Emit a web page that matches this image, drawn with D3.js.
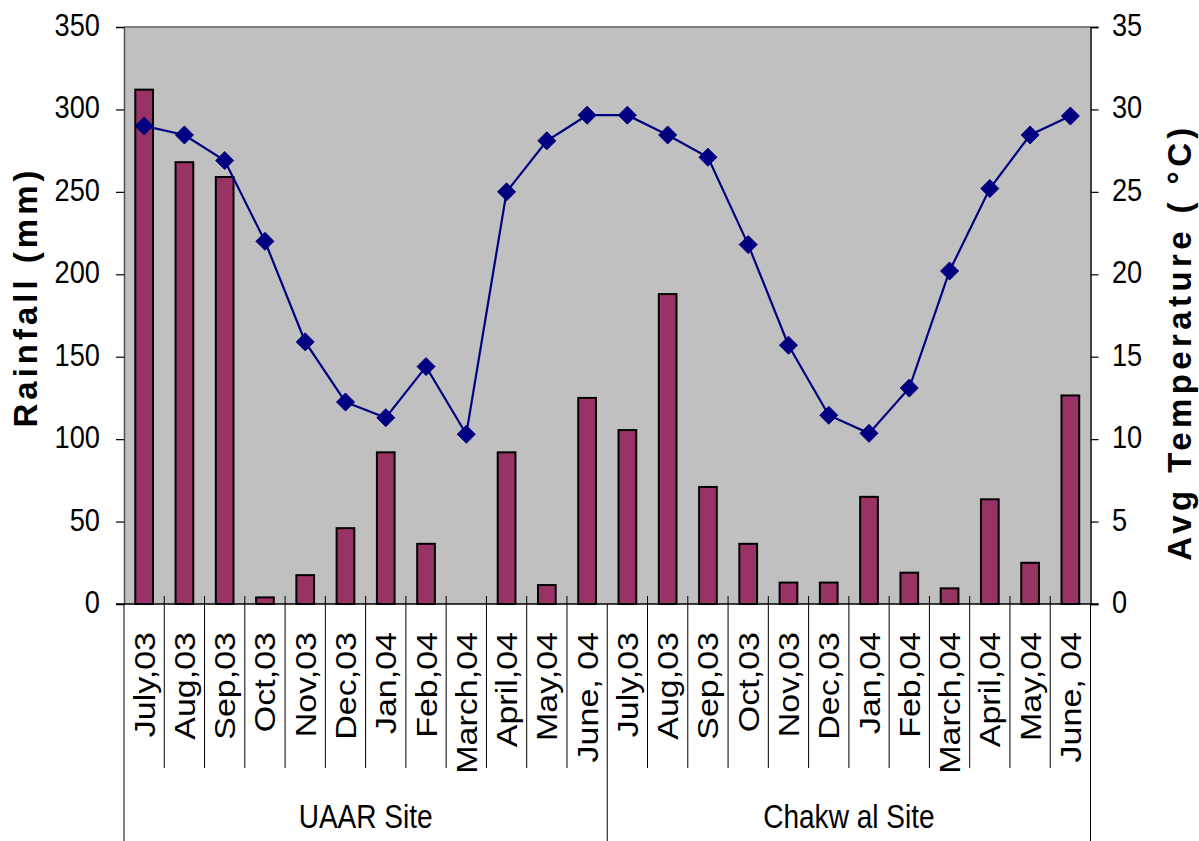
<!DOCTYPE html>
<html>
<head>
<meta charset="utf-8">
<script src="https://cdn.jsdelivr.net/npm/d3@7"></script>
<style>
  html, body { margin: 0; padding: 0; background: #ffffff; }
  svg { display: block; }
  text { font-family: "Liberation Sans", Arial, sans-serif; fill: #000; }
</style>
</head>
<body>
<svg id="chart" width="1199" height="841"></svg>
<script>
// Monthly rainfall (bars) and mean temperature (line) at two sites, Jul 2003 – Jun 2004
const sites = ["UAAR Site", "Chakw al Site"];
const months = ["July,03", "Aug,03", "Sep,03", "Oct,03", "Nov,03", "Dec,03",
                "Jan,04", "Feb,04", "March,04", "April,04", "May,04", "June, 04"];
const rainUAAR     = [312, 268, 259, 4, 17.5, 46, 92, 36.5, 0, 92, 11.5, 125];
const rainChakwal  = [105.5, 188, 71, 36.5, 13, 13, 65, 19, 9.5, 63.5, 25, 126.5];
const tempUAAR     = [29.0, 28.45, 26.9, 22.0, 15.9, 12.25, 11.3, 14.4, 10.3, 25.0, 28.1, 29.65];
const tempChakwal  = [29.65, 28.45, 27.1, 21.8, 15.7, 11.45, 10.35, 13.1, 20.2, 25.2, 28.45, 29.6];
const rainTicks = [0, 50, 100, 150, 200, 250, 300, 350];
const tempTicks = [0, 5, 10, 15, 20, 25, 30, 35];

const rows = [];
[[rainUAAR, tempUAAR], [rainChakwal, tempChakwal]].forEach(([rain, temp], s) => {
  months.forEach((m, i) => rows.push({ key: s * 12 + i, site: s, month: m, rain: rain[i], temp: temp[i] }));
});

const svg = d3.select("#chart");
const plot = { left: 124, right: 1090.5, top: 27, bottom: 604 };
const SX = 0.85;              // horizontal squeeze applied to lettering
const FS = 32;                // tick label size
const CFS = 34;               // category label size

const x = d3.scaleBand().domain(rows.map(d => d.key)).range([plot.left, plot.right]).padding(0);
const yRain = d3.scaleLinear().domain([0, 350]).range([plot.bottom, plot.top]);
const yTemp = d3.scaleLinear().domain([0, 35]).range([plot.bottom, plot.top]);

// plot background
svg.append("rect")
  .attr("x", plot.left).attr("y", plot.top)
  .attr("width", plot.right - plot.left).attr("height", plot.bottom - plot.top)
  .attr("fill", "#c0c0c0");
svg.append("line")
  .attr("x1", plot.left).attr("x2", plot.right)
  .attr("y1", plot.top).attr("y2", plot.top)
  .attr("stroke", "#808080").attr("stroke-width", 2);

// rainfall bars
const barW = x.bandwidth() * 0.44;
svg.append("g").selectAll("rect").data(rows).join("rect")
  .attr("x", d => x(d.key) + x.bandwidth() / 2 - barW / 2)
  .attr("y", d => yRain(d.rain))
  .attr("width", barW)
  .attr("height", d => plot.bottom - yRain(d.rain))
  .attr("fill", "#993366")
  .attr("stroke", "#000").attr("stroke-width", 2)
  .attr("display", d => d.rain > 0 ? null : "none");

// left axis
const leftAxis = svg.append("g").attr("transform", `translate(${plot.left},0)`)
  .call(d3.axisLeft(yRain).tickValues(rainTicks).tickSize(8).tickFormat(""));
leftAxis.select(".domain").attr("stroke", "#505050").attr("stroke-width", 1.5);
leftAxis.selectAll(".tick line").attr("stroke", "#000").attr("stroke-width", 1.2);
svg.append("g").selectAll("text").data(rainTicks).join("text")
  .attr("transform", d => `translate(100,${yRain(d) + 9}) scale(${SX},1)`)
  .attr("text-anchor", "end").attr("font-size", FS)
  .text(d => d);

// right axis
const rightAxis = svg.append("g").attr("transform", `translate(${plot.right},0)`)
  .call(d3.axisRight(yTemp).tickValues(tempTicks).tickSize(8).tickFormat(""));
rightAxis.select(".domain").attr("stroke", "#404040").attr("stroke-width", 2);
rightAxis.selectAll(".tick line").attr("stroke", "#000").attr("stroke-width", 1.2);
svg.append("g").selectAll("text").data(tempTicks).join("text")
  .attr("transform", d => `translate(1112,${yTemp(d) + 9}) scale(${SX},1)`)
  .attr("text-anchor", "start").attr("font-size", FS)
  .text(d => d);

// category axis baseline
svg.append("line")
  .attr("x1", plot.left - 8).attr("x2", plot.right + 8)
  .attr("y1", plot.bottom).attr("y2", plot.bottom)
  .attr("stroke", "#000").attr("stroke-width", 1.5);

// category dividers (longer at site boundaries)
const bounds = d3.range(0, rows.length + 1);
svg.append("g").selectAll("line").data(bounds).join("line")
  .attr("x1", i => i < rows.length ? x(i) : plot.right)
  .attr("x2", i => i < rows.length ? x(i) : plot.right)
  .attr("y1", i => (i % 12 === 0) ? plot.bottom : plot.bottom - 8)
  .attr("y2", i => (i % 12 === 0) ? 841 : 768)
  .attr("stroke", "#000").attr("stroke-width", 1);

// month labels
svg.append("g").selectAll("text").data(rows).join("text")
  .attr("transform", d => `translate(${x(d.key) + x.bandwidth() / 2 + 10.5},632) scale(${SX},1) rotate(-90)`)
  .attr("text-anchor", "end").attr("font-size", CFS)
  .text(d => d.month);

// site labels
svg.append("g").selectAll("text").data(sites).join("text")
  .attr("transform", (d, s) => {
    const cx = (x(s * 12) + (s === 1 ? plot.right : x(12))) / 2;
    return `translate(${cx},828) scale(${SX},1)`;
  })
  .attr("text-anchor", "middle").attr("font-size", 33)
  .text(d => d);

// temperature line across both sites
const line = d3.line().x(d => x(d.key) + x.bandwidth() / 2).y(d => yTemp(d.temp));
svg.append("path").datum(rows)
  .attr("d", line)
  .attr("fill", "none").attr("stroke", "#000080").attr("stroke-width", 2.2);

const dm = 9;
svg.append("g").selectAll("path").data(rows).join("path")
  .attr("transform", d => `translate(${x(d.key) + x.bandwidth() / 2},${yTemp(d.temp)})`)
  .attr("d", `M0,${-dm}L${dm},0L0,${dm}L${-dm},0Z`)
  .attr("fill", "#000080").attr("stroke", "#000080").attr("stroke-width", 1);

// axis titles
svg.append("text")
  .attr("transform", `translate(37,297) rotate(-90)`)
  .attr("text-anchor", "middle").attr("font-size", 33).attr("font-weight", "bold")
  .attr("letter-spacing", 4)
  .text("Rainfall (mm)");
svg.append("text")
  .attr("transform", `translate(1191,342) rotate(-90)`)
  .attr("text-anchor", "middle").attr("font-size", 33).attr("font-weight", "bold")
  .attr("letter-spacing", 4.4)
  .text("Avg Temperature ( °C)");
</script>
</body>
</html>
